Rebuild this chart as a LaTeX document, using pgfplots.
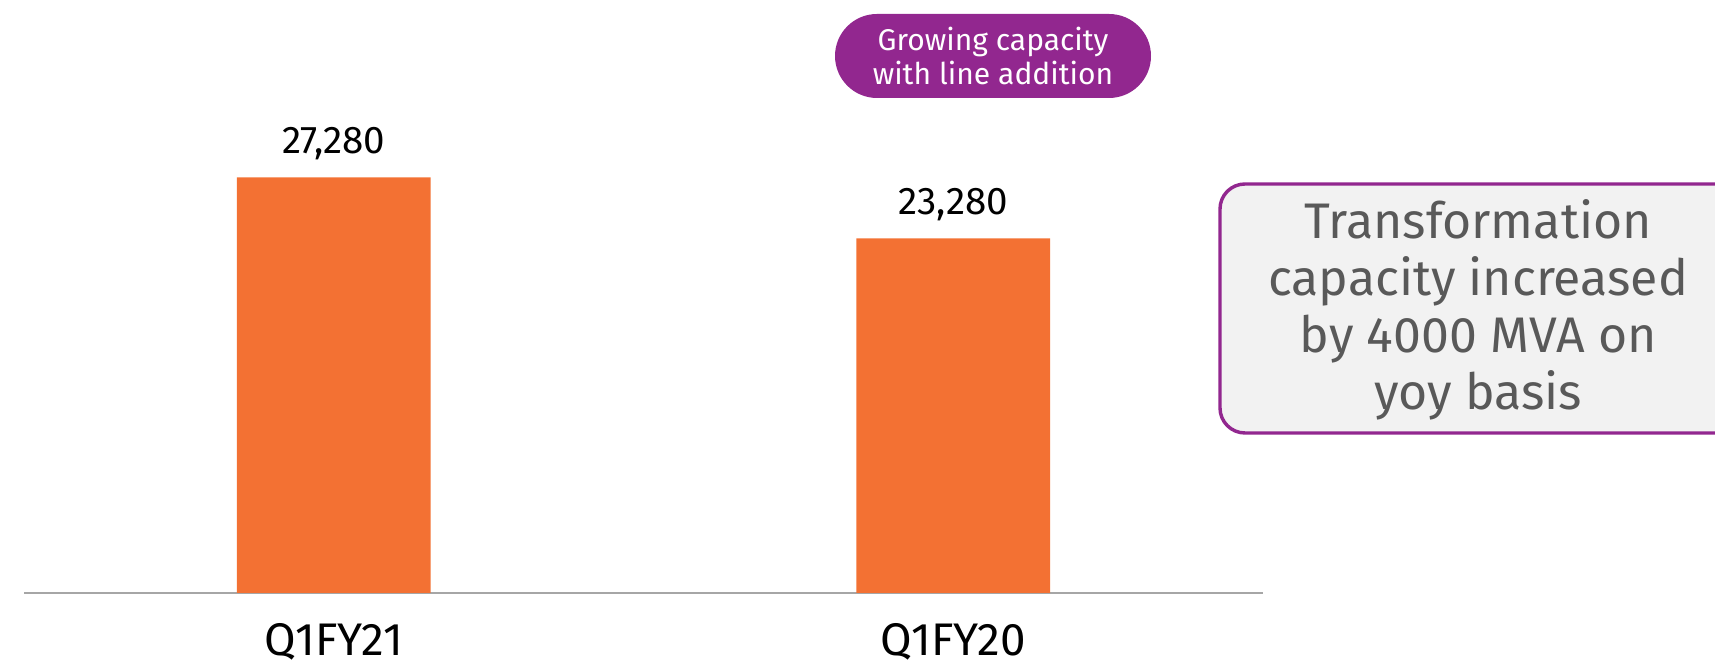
\documentclass[border=0pt]{standalone}
\usepackage{pgfplots}
\pgfplotsset{compat=1.18}
\usepackage{fontspec}
\setmainfont{Fira Sans}
\definecolor{barorange}{RGB}{243,113,51}
\definecolor{pillpurple}{RGB}{146,39,143}
\definecolor{boxgray}{RGB}{242,242,242}
\definecolor{txtgray}{RGB}{89,89,89}
\definecolor{axgray}{RGB}{166,166,166}
\begin{document}
\begin{tikzpicture}
\useasboundingbox (0pt,0pt) rectangle (600.25pt,232.4pt);
\clip (0pt,0pt) rectangle (600.25pt,232.4pt);
\begin{axis}[
  at={(8.4pt,24.85pt)}, anchor=south west,
  scale only axis, width=433.65pt, height=159.95pt,
  xmin=-0.5, xmax=1.5, ymin=0, ymax=30000,
  axis x line*=bottom, hide y axis,
  x axis line style={draw=axgray, line width=0.7pt, -},
  xtick=data, xticklabels={Q1FY21,Q1FY20},
  major tick length=0pt,
  /pgf/number format/assume math mode=true,
  xticklabel style={anchor=center, yshift=-17pt, font=\fontsize{16}{18}\selectfont, text=black},
  ybar, bar width=0.313,
  nodes near coords={\pgfmathprintnumber[fixed, 1000 sep={,}, assume math mode=true]{\pgfplotspointmeta}},
  every node near coord/.append style={anchor=center, yshift=11.9pt, font=\fontsize{13.5}{16}\selectfont, text=black},
]
\addplot[fill=barorange, draw=none] coordinates {(0,27280) (1,23280)};
\end{axis}
\node[fill=pillpurple, text=white, rounded corners=14.7pt, minimum width=110.6pt, minimum height=29.4pt, align=center, inner sep=0pt, font=\fontsize{10.5}{12}\selectfont] at (347.55pt,212.8pt) {Growing capacity\\with line addition};
\draw[draw=pillpurple, fill=boxgray, line width=1.2pt, rounded corners=8.75pt] (427pt,80.85pt) rectangle (610pt,168pt);
\node[text=txtgray, align=center, font=\fontsize{17.5}{20}\selectfont] at (517.3pt,123.9pt) {Transformation\\capacity increased\\by 4000 MVA on\\yoy basis};
\end{tikzpicture}
\end{document}
